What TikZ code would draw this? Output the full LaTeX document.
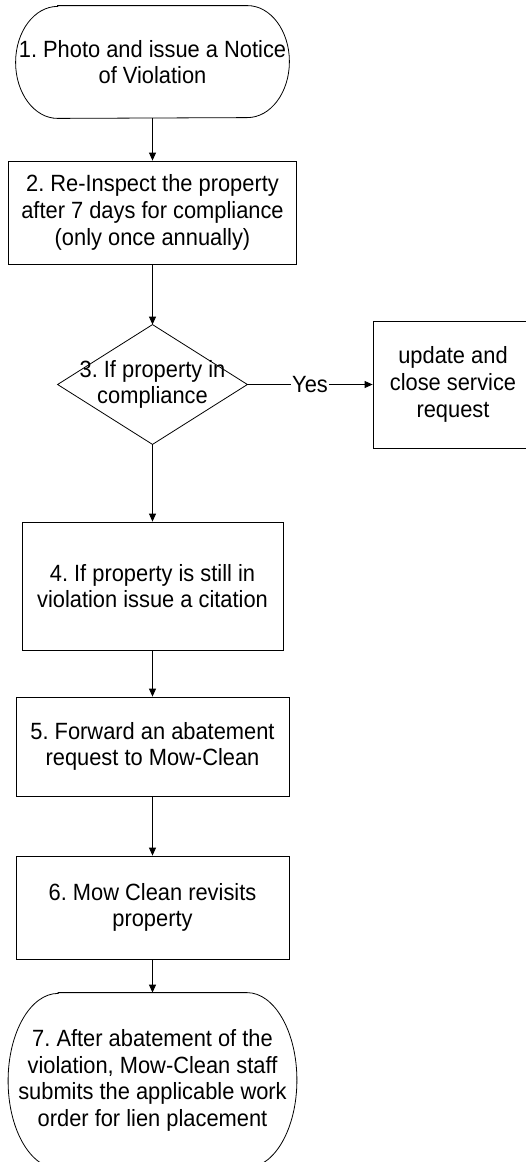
\documentclass[tikz,border=0pt]{standalone}
\usepackage{fontspec}
\setmainfont{Liberation Sans}[FakeStretch=0.93]
\usetikzlibrary{arrows.meta}
\frenchspacing
\begin{document}
\begin{tikzpicture}[x=1pt,y=-1pt,
  every node/.style={font=\fontsize{23.5}{26.7}\selectfont, align=center, inner sep=0pt},
  box/.style={draw, line width=0.8pt},
  conn/.style={line width=0.8pt, -{Triangle[length=8pt,width=7pt]}},
  line width=0.8pt]
\useasboundingbox (0,0) rectangle (526,1162);
\node[minimum width=273pt, minimum height=112pt] (n1) at (152.5,62) {1. Photo and issue a Notice\\of Violation};
\draw ([xshift=42pt]n1.north west) -- ([xshift=-42pt]n1.north east)
  arc[start angle=90,end angle=-90,x radius=42pt,y radius=56pt]
  -- ([xshift=42pt]n1.south west)
  arc[start angle=270,end angle=90,x radius=42pt,y radius=56pt] -- cycle;
\node[box, minimum width=288pt, minimum height=103pt] (n2) at (152.5,212.5) {2. Re-Inspect the property\\after 7 days for compliance\\(only once annually)};
\node[minimum width=189pt, minimum height=119pt] (n3) at (152.5,384.5) {3. If property in\\compliance};
\draw (n3.north) -- (n3.east) -- (n3.south) -- (n3.west) -- cycle;
\node[box, minimum width=160pt, minimum height=127pt] (nr) at (453,384.5) {update and\\close service\\request};
\node[box, minimum width=261pt, minimum height=128pt] (n4) at (152.5,586) {4. If property is still in\\violation issue a citation};
\node[box, minimum width=273pt, minimum height=99pt] (n5) at (152.5,746.5) {5. Forward an abatement\\request to Mow-Clean};
\node[box, minimum width=273pt, minimum height=103pt] (n6) at (152.5,907.5) {6. Mow Clean revisits\\property};
\node[minimum width=288pt, minimum height=175pt] (n7) at (152.5,1080.5) {7. After abatement of the\\violation, Mow-Clean staff\\submits the applicable work\\order for lien placement};
\draw ([xshift=50pt]n7.north west) -- ([xshift=-50pt]n7.north east)
  arc[start angle=90,end angle=-90,x radius=50pt,y radius=87.5pt]
  -- ([xshift=50pt]n7.south west)
  arc[start angle=270,end angle=90,x radius=50pt,y radius=87.5pt] -- cycle;
\draw[conn] (n1.south) -- (n2.north);
\draw[conn] (n2.south) -- (n3.north);
\draw[conn] (n3.east) -- node[fill=white, inner xsep=1.5pt, inner ysep=2pt]{Yes} (nr.west);
\draw[conn] (n3.south) -- (n4.north);
\draw[conn] (n4.south) -- (n5.north);
\draw[conn] (n5.south) -- (n6.north);
\draw[conn] (n6.south) -- (n7.north);
\end{tikzpicture}
\end{document}
